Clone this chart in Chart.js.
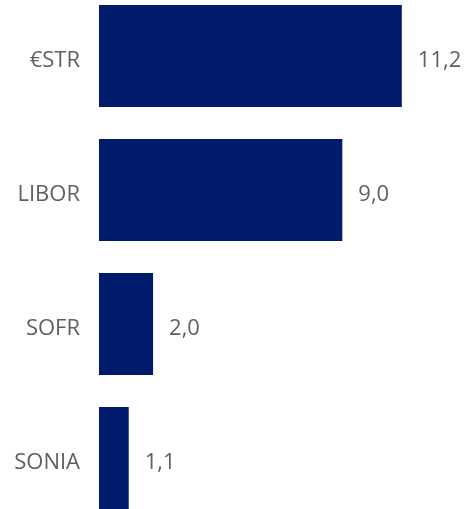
<!DOCTYPE html>
<html>
<head>
<meta charset="utf-8">
<script src="https://cdn.jsdelivr.net/npm/chart.js@4/dist/chart.umd.min.js"></script>
<style>
    html, body { margin: 0; padding: 0; background: #ffffff; overflow: hidden; }
    #rateChart { display: block; margin-top: -11px; }
</style>
</head>
<body>
<canvas id="rateChart" width="464" height="536"></canvas>
<script>
// Data
const categories = ['€STR', 'LIBOR', 'SOFR', 'SONIA'];
const values = [11.2, 9.0, 2.0, 1.1];

const barColor = '#001A6C';
const textColor = '#606060';
const fontFamily = '"Open Sans", "Noto Sans", sans-serif';

// Value labels right of each bar (comma decimal)
const valueLabels = {
    id: 'valueLabels',
    afterDatasetsDraw(chart) {
        const ctx = chart.ctx;
        const meta = chart.getDatasetMeta(0);
        ctx.save();
        ctx.font = '22px ' + fontFamily;
        ctx.fillStyle = textColor;
        ctx.textAlign = 'left';
        ctx.textBaseline = 'middle';
        meta.data.forEach((bar, i) => {
            const text = values[i].toFixed(1).replace('.', ',');
            ctx.fillText(text, bar.x + 16, bar.y + 5);
        });
        ctx.restore();
    }
};

new Chart(document.getElementById('rateChart'), {
    type: 'bar',
    data: {
        labels: categories,
        datasets: [{
            data: values,
            backgroundColor: barColor,
            borderWidth: 0,
            categoryPercentage: 1,
            barPercentage: 0.761
        }]
    },
    options: {
        indexAxis: 'y',
        responsive: false,
        animation: false,
        layout: { padding: 0 },
        plugins: {
            legend: { display: false },
            tooltip: { enabled: false }
        },
        scales: {
            x: {
                display: false,
                min: 0,
                max: 13.5
            },
            y: {
                border: { display: false },
                grid: { display: false, drawTicks: false },
                ticks: {
                    color: textColor,
                    font: { size: 22, family: fontFamily },
                    padding: 19,
                    labelOffset: 5
                },
                afterFit(scale) {
                    scale.width = 99;
                    scale.paddingTop = 0;
                    scale.paddingBottom = 0;
                }
            }
        }
    },
    plugins: [valueLabels]
});
</script>
</body>
</html>
